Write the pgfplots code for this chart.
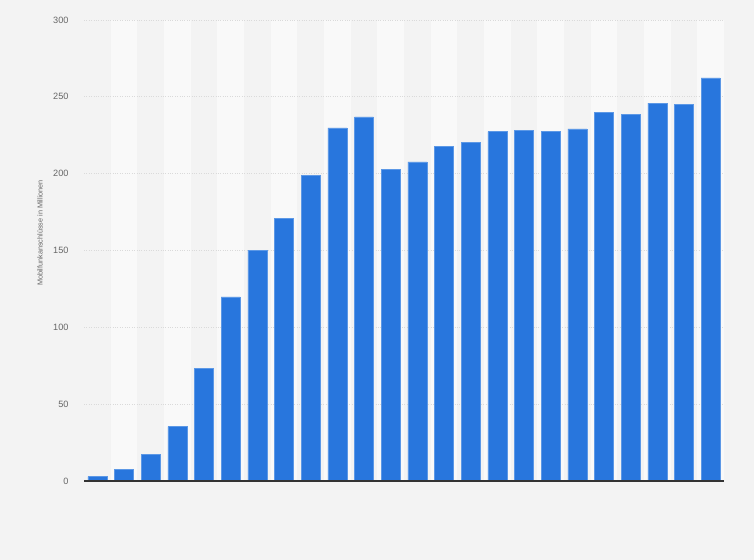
\documentclass[border=0pt]{standalone}
\usepackage{pgfplots}
\usepackage{pgfplotstable}
\pgfplotsset{compat=1.18}
\usepackage{fontspec}
\setmainfont{Liberation Sans}

\definecolor{barblue}{HTML}{2876DD}
\definecolor{baredge}{HTML}{5C98E6}
\definecolor{bgouter}{HTML}{F3F3F3}
\definecolor{bgband}{HTML}{F9F9F9}
\definecolor{gridgray}{HTML}{DADADA}
\definecolor{labelgray}{HTML}{666666}

% Mobilfunkanschluesse in Millionen, 24 Jahre
\pgfplotstableread{
x y
0 2.8
1 7.4
2 17.1
3 35.4
4 73.2
5 119.8
6 150.3
7 171.1
8 199.1
9 229.8
10 236.9
11 203.0
12 207.6
13 218.0
14 220.6
15 227.4
16 228.4
17 227.3
18 229.1
19 239.7
20 238.4
21 245.9
22 244.9
23 262.3
}\datatable

\begin{document}
\begin{tikzpicture}
\begin{axis}[
    set layers,
    clip=false,
    width=640bp, height=461bp, scale only axis,
    xmin=-0.5, xmax=23.5,
    ymin=0, ymax=300,
    xtick=\empty,
    ytick={0,50,...,300},
    axis x line*=bottom, axis y line*=left,
    x axis line style={draw=none},
    y axis line style={draw=none},
    major tick length=0pt,
    ymajorgrids,
    grid style={gridgray, dotted, line width=0.8bp},
    /pgf/number format/assume math mode=true,
    yticklabel style={font=\fontsize{9.2}{10}\selectfont, text=labelgray, xshift=-12bp},
    ylabel={Mobilfunkanschlüsse in Millionen},
    every axis y label/.style={at={(rel axis cs:-0.0688,0.538)}, rotate=90, anchor=center,
        font=\fontsize{7.3}{8}\selectfont, text=labelgray},
]
\begin{pgfonlayer}{axis background}
\fill[bgouter] (rel axis cs:-0.13125,-0.17137) rectangle (rel axis cs:1.046875,1.04338);
\pgfplotsinvokeforeach{1,3,...,23}{
    \fill[bgband] (axis cs:#1-0.5,0) rectangle (axis cs:#1+0.5,300);
}
\end{pgfonlayer}
\addplot[ybar, bar width=0.71, fill=barblue, draw=baredge, line width=0.6bp] table[x=x, y=y] {\datatable};
\draw[black!80, line width=1.1bp] (rel axis cs:0,0) -- (rel axis cs:1,0);
\end{axis}
\end{tikzpicture}
\end{document}
